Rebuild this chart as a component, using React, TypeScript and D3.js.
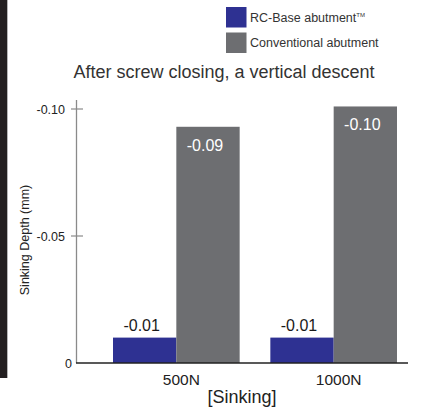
import React from "react";
import * as d3 from "d3";

const categories = ["500N", "1000N"];
const seriesNames = ["RC-Base abutment", "Conventional abutment"];
const rcBaseValues = [0.01, 0.01];
const conventionalValues = [0.093, 0.101];
const barLabels = [["-0.01", "-0.09"], ["-0.01", "-0.10"]];
const yTicks = [0, 0.05, 0.1];
const yTickLabels = ["0", "-0.05", "-0.10"];
const colors = ["#2e3192", "#6d6e71"];

const W = 425;
const H = 408;
const font = "'Liberation Sans', Arial, Helvetica, sans-serif";

export default function App() {
  const y = d3.scaleLinear().domain([0, 0.1]).range([363, 109]);
  const x = d3.scaleBand().domain(categories).range([113, 397]).paddingInner(0.195).paddingOuter(0);
  const xs = d3.scaleBand().domain(seriesNames).range([0, x.bandwidth()]).padding(0);
  const series = [rcBaseValues, conventionalValues];

  return (
    <svg width={W} height={H} style={{ position: "absolute", left: 0, top: 0, background: "#fff" }} fontFamily={font}>
      <rect x={0} y={0} width={7} height={378} fill="#231f20" />
      <line x1={7.5} y1={0} x2={7.5} y2={378} stroke="#b5b5b5" strokeWidth={1} />

      {/* legend */}
      {seriesNames.map((s, i) => (
        <g key={s} transform={`translate(226, ${7 + i * 25.5})`}>
          <rect width={20.5} height={20.5} fill={colors[i]} />
          <text x={24} y={14.5} fontSize={12.5} fill="#333">
            {s}
            {i === 0 ? <tspan fontSize={6} dy={-5}>TM</tspan> : null}
          </text>
        </g>
      ))}

      <text x={224} y={78} fontSize={18} fill="#333" textAnchor="middle">
        After screw closing, a vertical descent
      </text>

      {/* bars */}
      {categories.map((c, ci) => (
        <g key={c} transform={`translate(${x(c)},0)`}>
          {series.map((vals, si) => (
            <rect
              key={si}
              x={xs(seriesNames[si])}
              y={y(vals[ci])}
              width={xs.bandwidth()}
              height={y(0) - y(vals[ci])}
              fill={colors[si]}
            />
          ))}
          <text
            x={(xs(seriesNames[0]) as number) + xs.bandwidth() / 2 - 3}
            y={y(rcBaseValues[ci]) - 7}
            fontSize={16}
            fill="#1a1a1a"
            textAnchor="middle"
          >
            {barLabels[ci][0]}
          </text>
          <text
            x={(xs(seriesNames[1]) as number) + xs.bandwidth() / 2 - 3}
            y={y(conventionalValues[ci]) + 24}
            fontSize={16}
            fill="#ffffff"
            textAnchor="middle"
          >
            {barLabels[ci][1]}
          </text>
          <text
            x={x.bandwidth() / 2 + 5}
            y={385}
            fontSize={15.5}
            fill="#222"
            textAnchor="middle"
          >
            {c}
          </text>
        </g>
      ))}

      {/* y axis */}
      <line x1={76.5} y1={100} x2={76.5} y2={363} stroke="#8a8a8a" strokeWidth={1.3} />
      {yTicks.map((t, i) => (
        <g key={t} transform={`translate(0, ${y(t)})`}>
          {t !== 0 ? <line x1={71} x2={83} stroke="#8a8a8a" strokeWidth={1.2} /> : null}
          <text x={t === 0 ? 72 : 65} y={4.5} fontSize={12.5} fill="#222" textAnchor="end">
            {yTickLabels[i]}
          </text>
        </g>
      ))}
      <line x1={76} y1={363} x2={408} y2={363} stroke="#222" strokeWidth={1.5} />

      <text
        transform="translate(29, 240) rotate(-90)"
        fontSize={12.5}
        fill="#222"
        textAnchor="middle"
      >
        Sinking Depth (mm)
      </text>

      <text x={242} y={403} fontSize={18} fill="#222" textAnchor="middle">
        [Sinking]
      </text>
    </svg>
  );
}
